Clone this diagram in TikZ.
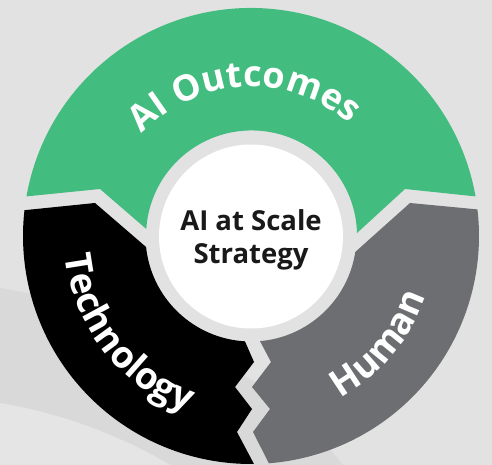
\documentclass[tikz,border=0pt]{standalone}
\usepackage{fontspec}
\setmainfont{Open Sans}
\usetikzlibrary{decorations.text}
\definecolor{bgtop}{HTML}{E2E2E2}
\definecolor{bgmid}{HTML}{D9D9D9}
\definecolor{bglow}{HTML}{E5E5E5}
\definecolor{greenc}{HTML}{43BC80}
\definecolor{greyc}{HTML}{6D6E71}
\newcommand{\arclabeltext}[5]{%
  \path[decorate,decoration={text along path,text align=center,text color=white,
    text={|\fontsize{#5}{#5}\selectfont\bfseries|#1}}]
    ([shift={(#3:#2)}]251,229) arc[start angle=#3,end angle=#4,radius=#2];}
\begin{document}
\begin{tikzpicture}[x=1pt,y=1pt]
\useasboundingbox (0,0) rectangle (492,465);
\fill[bgtop] (0,0) rectangle (492,465);
\fill[bgmid] (0,177) .. controls (80,165) and (190,115) .. (248,87) .. controls (285,68) and (310,40) .. (343,0) -- (0,0) -- cycle;
\fill[bglow] (0,62) .. controls (60,52) and (120,30) .. (170,0) -- (0,0) -- cycle;
% segments
\fill[greenc] ([shift={(170:228)}]251,229) arc[start angle=170,end angle=10,radius=228]
  -- (405,276) -- (357,232) arc[start angle=1.6,end angle=176.2,radius=105.5] -- (100,276) -- cycle;
\fill[black] ([shift={(173.5:228)}]251,229) arc[start angle=173.5,end angle=270.75,radius=228]
  -- (237,33) -- (252,56) -- (235,78) -- (254,103)
  -- ([shift={(266.7:105.5)}]251,229) arc[start angle=266.7,end angle=186,radius=105.5]
  -- (95,262) -- cycle;
\fill[greyc] ([shift={(6.7:228)}]251,229) arc[start angle=6.7,end angle=-85.5,radius=228]
  -- (253,33) -- (270,56) -- (252,78) -- (271,103)
  -- ([shift={(-85.1:105.5)}]251,229) arc[start angle=-85.1,end angle=-8.7,radius=105.5]
  -- (410,262) -- cycle;
% hub
\fill[white] (251,228.5) circle[radius=92];
% labels
\arclabeltext{AI Outcomes}{149}{152.75}{32.75}{36}
\arclabeltext{Technology}{187}{178}{258}{37}
\arclabeltext{Human}{185}{-78}{-2}{37}
\node[align=center,font=\fontsize{27.5}{33.5}\selectfont\bfseries,text=black!90] (hub) at (251,225) {AI at Scale\\Strategy};
\end{tikzpicture}
\end{document}
